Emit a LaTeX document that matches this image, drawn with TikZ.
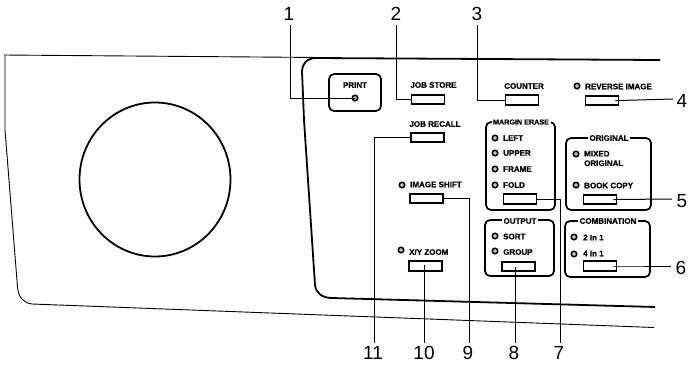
\documentclass[tikz,border=0pt]{standalone}
\usepackage{fontspec}
\setmainfont{Liberation Sans}
\newfontfamily\panelfont[FakeBold=0.6]{Liberation Sans Bold}
\tikzset{
  btn/.style={draw=black,line width=1.7pt,fill=white,inner sep=0pt,minimum width=33pt,minimum height=9.5pt},
  led/.style={circle,draw=black,line width=1.5pt,fill=gray!50,inner sep=0pt,minimum size=5.5pt},
  lab/.style={font=\panelfont\fontsize{8}{9.5}\selectfont,inner sep=0pt,align=left},
  labl/.style={lab,anchor=west},
  num/.style={font=\fontsize{19}{19}\selectfont,inner sep=0pt},
  leader/.style={draw=black,line width=1pt},
  grp/.style={draw=black,line width=1.7pt,rounded corners=5pt},
  ttl/.style={lab,fill=white,inner xsep=1.5pt,inner ysep=1pt},
  panel/.style={draw=black,line width=0.9pt,line join=round},
  panelthick/.style={draw=black,line width=1.8pt,line join=round}
}
\begin{document}
\begin{tikzpicture}[x=1pt,y=-1pt]
\useasboundingbox (0,0) rectangle (688,365);
% outer panel
\draw[panel] (4,55) -- (320,57.5);
\draw[panel] (5,55) -- (5,130) -- (17.5,287) .. controls (18.5,298) and (24,303) .. (32,304) -- (654,327.5);
\draw[panelthick] (660,60) -- (316,58) .. controls (307,58) and (302,64) .. (302,71) -- (304,120) -- (315,285)
   .. controls (316,293) and (322,298) .. (332,298) -- (655,307);
\draw[line width=1.8pt] (155,179.5) circle[x radius=75.5pt,y radius=77pt];
% groups
\draw[grp] (329,74) rectangle (381,111);
\draw[grp] (486,122) rectangle (555,210);
\draw[grp] (566,138) rectangle (651,210);
\draw[grp] (485,220) rectangle (554,276);
\draw[grp] (565,221) rectangle (650,277);
\node[ttl] (tmargin) at (521,122) {\fontsize{7.2}{8}\selectfont MARGIN ERASE};
\node[ttl] (toriginal) at (609,138) {ORIGINAL};
\node[ttl] (toutput) at (520,221) {OUTPUT};
\node[ttl] (tcomb) at (608,221) {COMBINATION};
% numbers
\node[num] (n1) at (289,14) {1};
\node[num] (n2) at (396,14) {2};
\node[num] (n3) at (477,14) {3};
\node[num] (n4) at (682,101) {4};
\node[num] (n5) at (682,201) {5};
\node[num] (n6) at (681,268) {6};
\node[num] (n7) at (559,353) {7};
\node[num] (n8) at (514,353) {8};
\node[num] (n9) at (468,353) {9};
\node[num] (n10) at (424,353) {10};
\node[num] (n11) at (373,353) {11};
\coordinate (c1) at (290,25);
\coordinate (c2) at (396,25);
\coordinate (c3) at (477,25);
\coordinate (c4) at (673,99);
\coordinate (c5) at (672,199);
\coordinate (c6) at (671,266);
\coordinate (c7) at (560,343);
\coordinate (c8) at (515,343);
\coordinate (c9) at (469.5,343);
\coordinate (c10) at (424,343);
\coordinate (c11) at (374,343);
% buttons
\node[btn] (b2) at (428,99.5) {};
\node[btn] (b3) at (522,100) {};
\node[btn] (b4) at (602,100.5) {};
\node[btn] (b11) at (427.5,137.5) {};
\node[btn] (b7) at (520,199) {};
\node[btn] (b5) at (600,199.5) {};
\node[btn] (b9) at (426.5,198.5) {};
\node[btn] (b8) at (518.5,266.5) {};
\node[btn] (b6) at (600,266) {};
\node[btn] (b10) at (425.5,266) {};
% leds
\node[led] (l1) at (355,98) {};
\node[led] (l4) at (577,86) {};
\node[led] (lm1) at (495,138) {};
\node[led] (lm2) at (495,153) {};
\node[led] (lm3) at (495,169) {};
\node[led] (lm4) at (495,185) {};
\node[led] (lo1) at (576,154) {};
\node[led] (lo2) at (576,185) {};
\node[led] (lu1) at (495,236) {};
\node[led] (lu2) at (495,251) {};
\node[led] (lc1) at (574,237) {};
\node[led] (lc2) at (574,254) {};
\node[led] (li) at (402,185) {};
\node[led] (lx) at (401,250) {};
% labels
\node[lab] (tprint) at (355,85) {PRINT};
\node[lab] (tstore) at (433.5,85) {JOB STORE};
\node[lab] (trecall) at (435,124) {JOB RECALL};
\node[lab] (tcounter) at (524,86) {COUNTER};
\node[labl] (trev) at (585,86.5) {REVERSE IMAGE};
\node[labl] (tleft) at (503,138) {LEFT};
\node[labl] (tupper) at (503,153) {UPPER};
\node[labl] (tframe) at (503,169) {FRAME};
\node[labl] (tfold) at (503,185) {FOLD};
\node[labl] (tmixed) at (584,158.5) {MIXED\\ORIGINAL};
\node[labl] (tbook) at (584,185.5) {BOOK COPY};
\node[labl] (tsort) at (503,236.5) {SORT};
\node[labl] (tgroup) at (503,252) {GROUP};
\node[labl] (t2) at (583,237.5) {2 In 1};
\node[labl] (t4) at (583,253.5) {4 In 1};
\node[labl] (tshift) at (410,184.5) {IMAGE SHIFT};
\node[labl] (tzoom) at (409,252) {X/Y ZOOM};
% leaders
\draw[leader] (c1) |- (l1.center);
\draw[leader] (c2) |- (b2.west);
\draw[leader] (c3) |- (b3.west);
\draw[leader] ([xshift=-4pt]b4.east) -- (b4.east) -- (c4);
\draw[leader] ([xshift=-4pt]b5.east) -- (b5.east) -- (c5);
\draw[leader] ([xshift=-4pt]b6.east) -- (b6.east) -- (c6);
\draw[leader] (b7.east) -| (c7);
\draw[leader] (c8) -- ([xshift=-3.5pt]b8.center);
\draw[leader] (b9.east) -| (c9);
\draw[leader] (c10) -- ([xshift=-1.5pt,yshift=1pt]b10.center);
\draw[leader] (b11.west) -| (c11);
\end{tikzpicture}
\end{document}
